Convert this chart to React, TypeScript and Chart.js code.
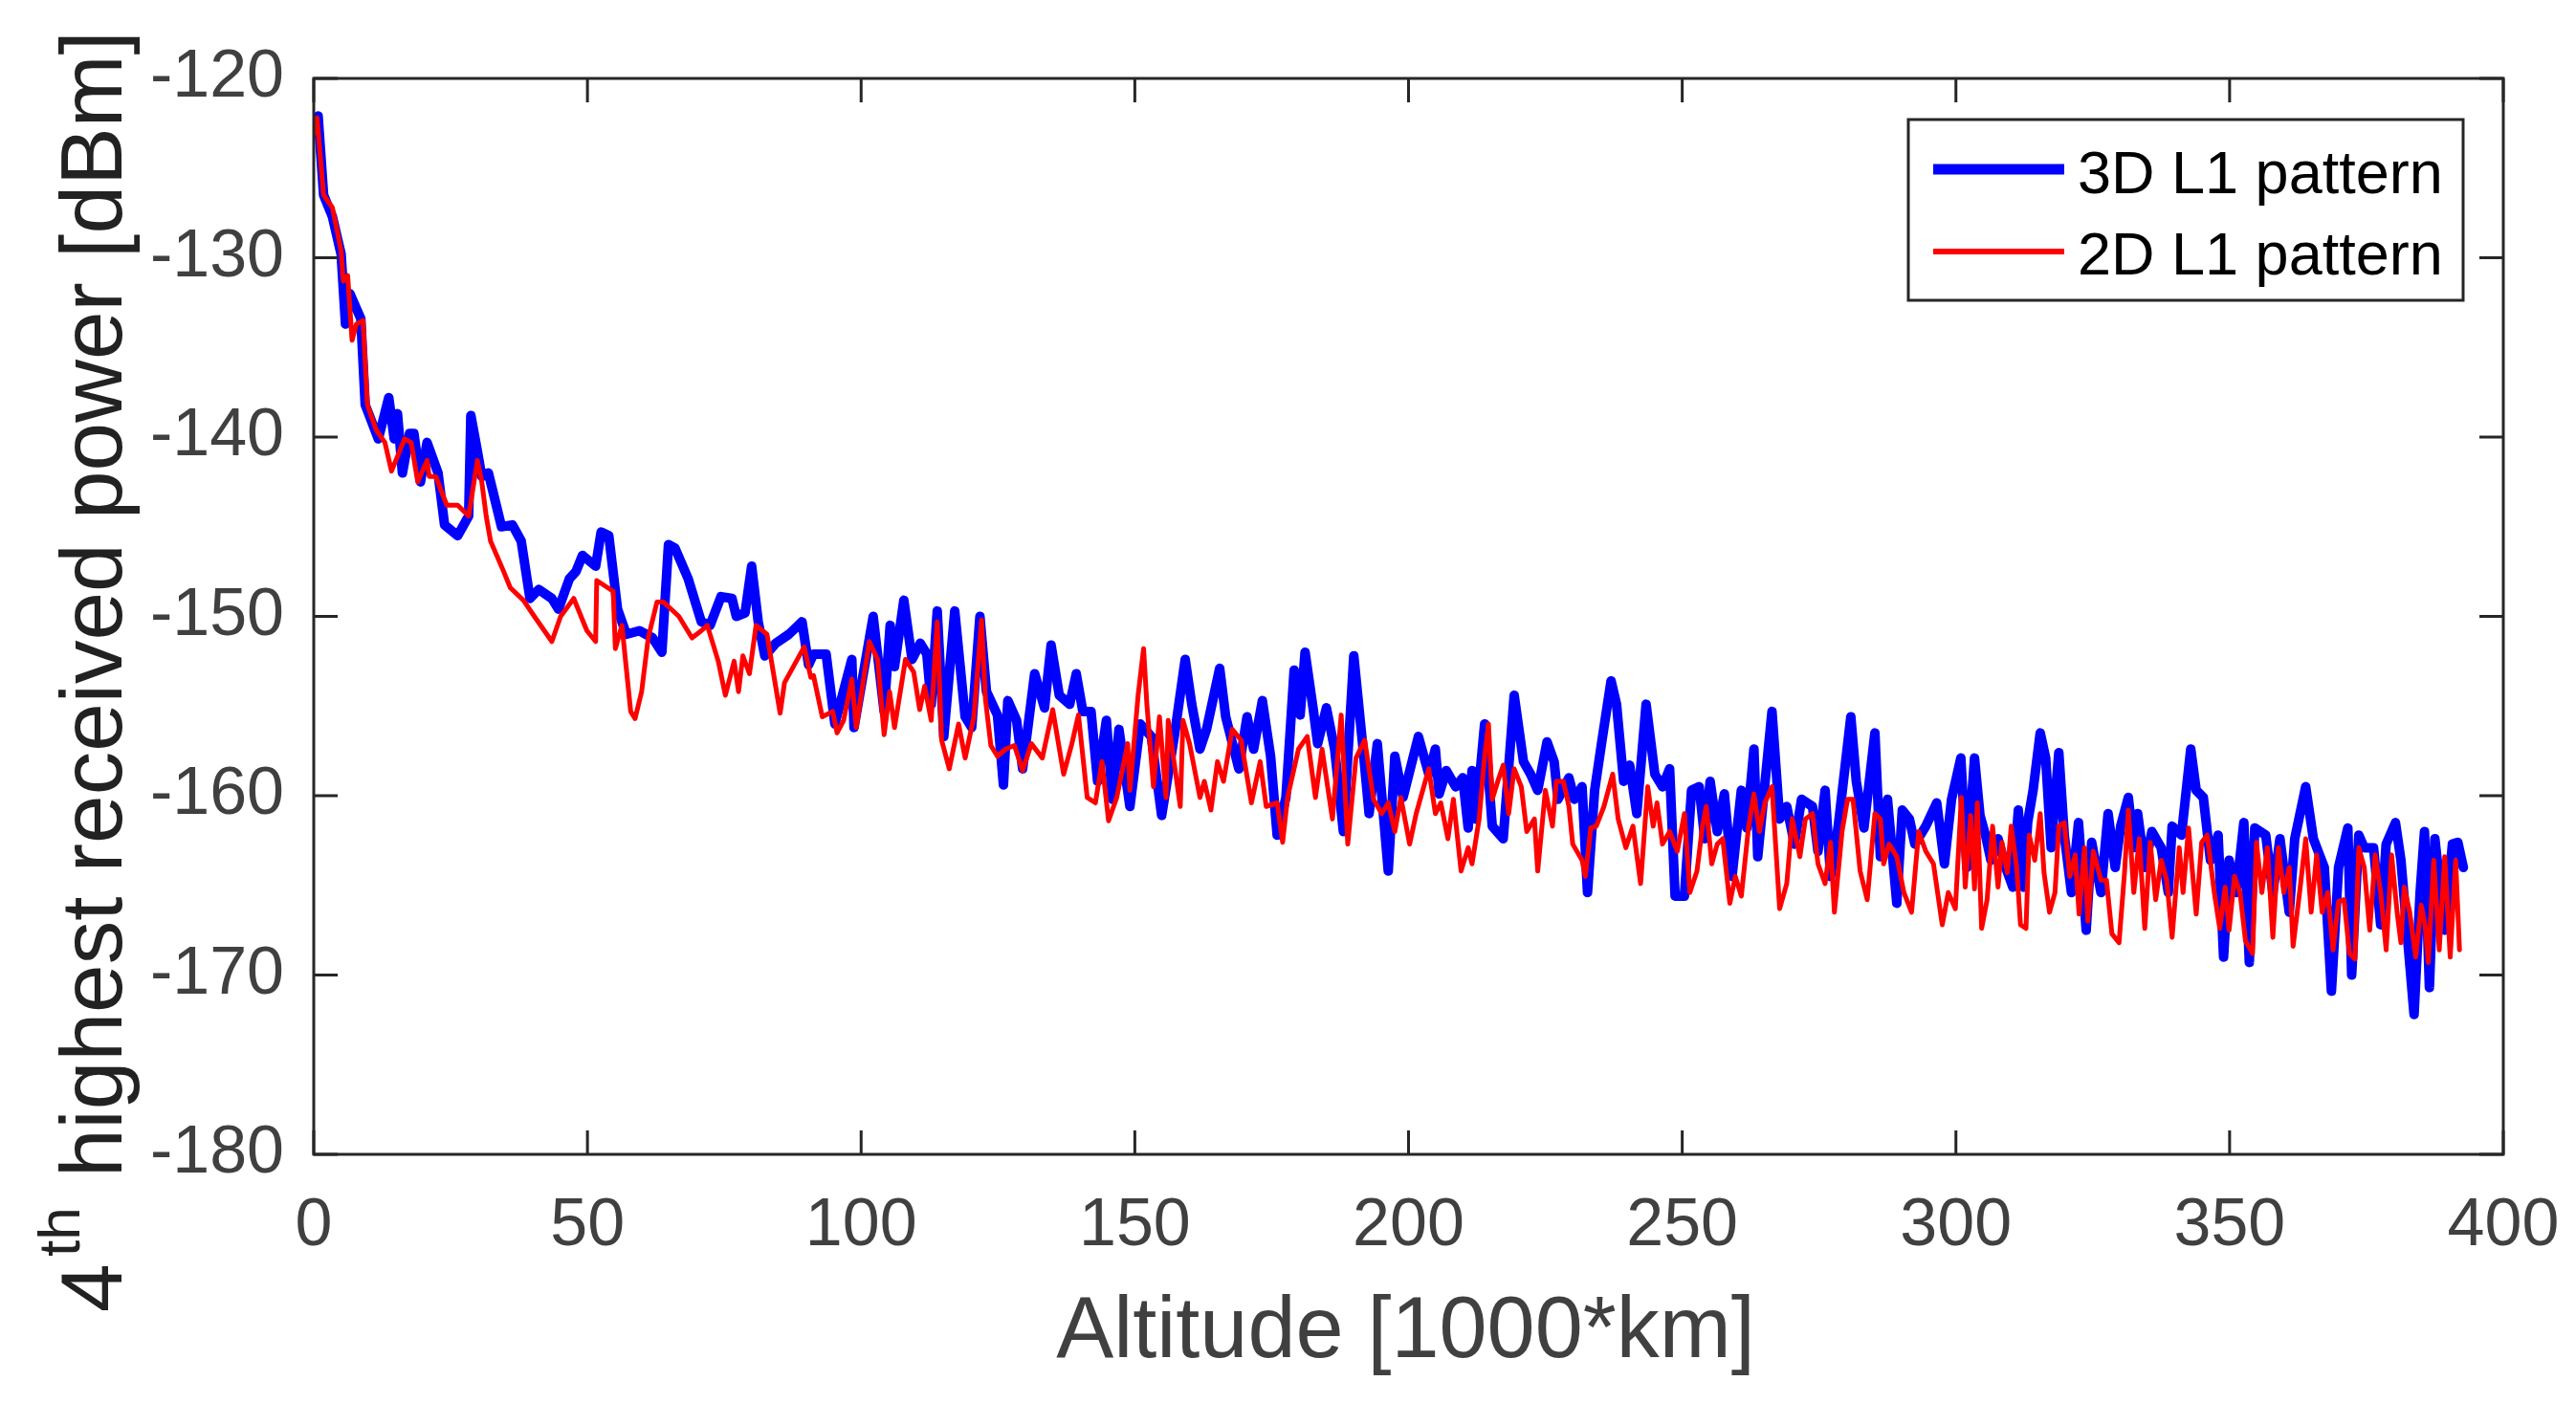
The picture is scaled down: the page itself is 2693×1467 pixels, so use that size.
import { useEffect, useRef } from "react"
import { Chart, registerables } from "chart.js"

Chart.register(...registerables)

// 3D L1 pattern (thick blue)
const altitude3D = [
  0, 0.8, 1.8, 3.4, 5.0, 5.8, 6.6, 8.6, 9.4, 11.8, 13.7, 14.7, 15.3, 16.2, 17.5, 18.3, 19.5, 20.7, 22.7, 23.9,
  26.3, 28.3, 28.7, 29.9, 30.7, 31.9, 34.3, 36.3, 37.9, 39.5, 41.1, 43.5, 44.7, 46.7, 47.9, 49.1, 51.5, 52.5, 53.9, 55.5,
  57.1, 59.5, 61.9, 63.6, 64.8, 66, 68.4, 70.8, 72.4, 74.4, 76.4, 77.2, 78.8, 80, 81.2, 82.4, 84.4, 86.8, 89.2, 90.4,
  91.3, 93.6, 95.2, 98.3, 98.7, 102.2, 104.2, 105.3, 106.1, 107.8, 109.3, 110.8, 112, 112.8, 113.9, 115.1, 117.1, 119, 120.2, 121.7,
  122.9, 124.9, 126, 126.8, 128.4, 129.5, 131.7, 133.5, 134.7, 136.2, 138.1, 139.3, 140.5, 142, 143.2, 144.8, 145.9, 147.1, 149.1, 151,
  153, 154.9, 157.3, 159.2, 160.4, 161.9, 163.1, 165.5, 166.6, 169, 170.5, 171.7, 173.3, 174.8, 176, 177.6, 179.1, 180.2, 181.1, 182.6,
  183.4, 185, 186.5, 188.1, 190, 191.6, 192.8, 194.3, 196.3, 197.5, 199, 201.8, 203.7,
  204.9, 205.6, 206.9, 208.6, 209.9, 210.9, 211.6, 212.3, 213.9, 215.3, 217.3, 219.3, 221, 222.3, 223.6, 225.3, 226.6, 227.3, 229.3, 230.3,
  231.7, 232.7, 234, 235.3, 237, 238, 239.3, 240.4, 241.7, 243.4, 245, 246.4, 247.7, 248.7, 250.4, 251.7, 253.1, 254.1, 255.1, 256.4,
  257.7, 259.1, 260.8, 261.8, 263.1, 263.8, 266.4, 267.8, 269.1, 270.5, 271.8, 273.8, 274.8, 276.1, 277.1, 278.5, 280.8, 281.8, 283.2, 285.2,
  286.2, 287.5, 289.2, 290.2, 291.5, 292.5, 294.5, 296.5, 297.9, 299.2, 300.9,
  302, 303.4, 304.4, 305.4, 306.4, 307.7, 309.1, 310.4, 311.4, 312.4, 313.1, 314.1, 315.4, 316.4, 317.4, 318.8, 319.8, 321.1, 322.4, 323.8,
  324.8, 326.5, 327.8, 329.1, 330.1, 331.5, 332.5, 333.2, 334.5, 335.8, 337.5, 338.8, 339.5, 341.2, 342.9, 343.9, 345.2, 346.5, 347.9, 348.9,
  349.9, 351.2, 352.6, 353.6, 354.6, 356.6, 357.9, 359.2, 360.9, 361.9, 363.9, 365.3, 367.3, 368.6, 369.9, 371.6, 372.3, 373.6, 374.6, 376.3,
  377.6, 378.6, 380.3, 381.3, 382.3, 383.7, 384.8, 385.6, 386.5, 387.5, 389.3, 390.7, 391.7, 392.7,
]
const power3D = [
  -122.9, -122.1, -126.5, -127.7, -129.8, -133.7, -132, -133.4, -138.2, -140.1, -137.8, -140.1, -138.7, -142, -139.8, -139.8, -142.5, -140.3, -142, -144.9,
  -145.5, -144.4, -138.8, -140.8, -142.2, -142, -145, -144.9, -145.8, -149, -148.5, -149, -149.6, -147.9, -147.5, -146.6, -147.2, -145.3, -145.5, -149.6,
  -151, -150.8, -151.2, -152, -146, -146.2, -147.9, -150.3, -150.5, -148.9, -149, -150, -149.8, -147.2, -150.3, -152.2, -151.5, -151, -150.3, -152.7,
  -152.1, -152.1, -156, -152.4, -156.2, -150, -155.3, -150.5, -152.8, -149.1, -152.4, -151.5, -152.1, -154.9, -149.7, -156.7, -149.7, -155.6, -156.2, -150,
  -154.2, -155.5, -159.4, -154.7, -155.8, -158.5, -153.2, -155.1, -151.6, -154.4, -154.9, -153.2, -155.3, -155.3, -159.2, -155.8, -160.2, -156.3, -160.6, -156,
  -156.7, -161.1, -156.5, -152.4, -154.9, -157.4, -156.3, -152.9, -155.6, -158.5, -155.6, -157.4, -154.7, -157.8, -162.2, -160.1, -153, -155.5, -152, -155.2,
  -157.1, -155.1, -157.4, -162, -152.2, -157.1, -161, -157.1, -164.2, -157.8, -160.1, -156.7, -158.8,
  -157.4, -159.9, -158.6, -159.5, -159, -161.8, -158.6, -161.3, -156, -161.7, -162.4, -154.4, -158.1, -158.8, -159.7, -157, -158.1, -160.2, -159, -160.2,
  -159.5, -165.4, -159.7, -157, -153.6, -154.9, -159.2, -158.3, -161, -154.9, -158.8, -159.5, -158.5, -165.6, -165.6, -159.7, -159.5, -162.4, -159.2, -162,
  -159.9, -164.5, -159.7, -161.8, -157.4, -163.4, -155.3, -161.3, -160.6, -162.7, -160.2, -160.6, -163.1, -159.7, -164.5, -161.7, -155.6, -159.2, -161.8, -156.5,
  -163.4, -160.2, -166, -160.8, -161.3, -162.7, -161.7, -160.4, -163.8, -160.2, -157.9,
  -164, -157.9, -161.1, -162.2, -163.6, -162.4, -164, -165.1, -160.8, -165.1, -161.5, -159.7, -156.5, -157.9, -162.9, -157.6, -162.2, -165.4, -161.5, -167.5,
  -162.6, -165.4, -161, -164, -161.7, -160.1, -162.9, -161, -164, -162, -162.9, -165.4, -161.7, -162.2, -157.4, -159.7, -160.1, -163.6, -162.2, -169,
  -163.6, -165.4, -161.5, -169.3, -161.8, -162.2, -165.4, -162.4, -166.5, -162.4, -159.5, -162.4, -164, -170.9, -164, -161.8, -170, -162.2, -162.9, -162.9,
  -167.2, -162.7, -161.5, -163.6, -167.2, -172.2, -165.4, -162, -170.7, -162.4, -167.5, -162.7, -162.6, -164,
]

// 2D L1 pattern (thin red)
const altitude2D = [
  0, 0.6, 1.8, 3.4, 5, 5.4, 6.2, 7, 7.8, 9, 9.8, 11.4, 13, 14.2, 16.6, 17.8, 19, 20.7, 21.1, 22.3,
  24.3, 26.3, 28.3, 29.9, 30.7, 31.5, 32.3, 34.7, 35.9, 38.3, 40.3, 43.5, 45.1, 47.5, 49.9, 51.5, 51.7, 54.7, 55.1, 56.3,
  57.9, 58.7, 59.9, 61.1, 62.7, 63.9, 66.7, 69.1, 70.8, 71.9, 73.9, 75.2, 76.8, 77.6, 78.4, 79.6, 80.8, 82.8, 85.2, 86,
  89.6, 90.8,
  91.3, 92.9, 94.8, 95.6, 96.8, 98.3, 99.1, 101.5, 103, 104.2, 105.2, 106.1, 108.1, 109.6, 110.7, 111.6, 112.8, 113.9, 114.7, 116.1,
  117.8, 119, 120.6, 122, 122.7, 123.7, 124.9, 126.4, 128, 129.5, 131.1, 133.1, 135, 137, 138.5, 139.7, 141.3, 142.8, 144, 145.2,
  146.7, 148.7, 149.1, 150.6, 151.6, 152.2, 153.4, 154.5, 155.7, 156.1, 158.3, 158.8, 160, 161.9, 162.7, 163.9, 165.1, 166.2, 167.8, 169.4,
  171.3, 172.9, 174, 176, 177, 177.9, 179.9, 181.5, 183, 184.2, 186.1, 187.7, 188.9, 190.4, 192, 193.6, 195.1, 196.3, 197.5, 198.6,
  200.2, 201.4, 203.7,
  204.9, 205.9, 207.2, 208.2, 209.6, 210.9, 211.6, 212.9, 213.9, 214.6, 215.3, 216.3, 217.3, 218.3, 219.3, 220.6, 221.6, 223, 223.6, 225,
  226.3, 227, 228.3, 229.3, 230, 231.7, 232.3, 233.3, 234.3, 235.7, 237.3, 238.3, 239.7, 241, 242.4, 243.7, 244.7, 245.4, 246.4, 247.7,
  249.1, 250.4, 251.4, 252.7, 253.7, 254.4, 255.4, 256.4, 257.4, 258.7, 259.7, 260.8, 262.1, 263.1, 264.1, 265.1, 266.4, 267.8, 269.1, 270.1,
  271.5, 272.5, 273.8, 274.8, 276.1, 277.1, 277.8, 279.2, 280.2, 281.2, 282.5, 283.8, 285.2, 286.2, 286.8, 287.8, 289.2, 290.5, 291.9, 293.2,
  294.5, 295.9, 297.5, 298.6, 299.9,
  301, 301.7, 302.7, 303.4, 303.9, 304.7, 305.7, 306.7, 307.7, 308.4, 309.4, 310.1, 311.1, 311.8, 312.8, 313.4, 314.4, 315.4, 316.1, 317.1,
  318.1, 318.8, 319.8, 320.8, 321.8, 322.5, 323.5, 324.1, 325.1, 326.5, 327.5, 328.5, 329.8, 330.8, 331.5, 332.5, 333.5, 334.5, 335.5, 336.5,
  337.5, 338.5, 339.5, 340.8, 341.5, 342.5, 343.9, 344.9, 345.9, 347.2, 348.2, 349.2, 349.9, 350.9, 351.9, 352.9, 354.2, 354.9, 355.9, 356.9,
  357.9, 358.9, 359.9, 360.9, 361.6, 362.9, 363.9, 364.9, 365.9, 366.9, 367.9, 368.9, 369.9, 370.9, 371.9, 372.9, 373.6, 374.6, 375.6, 376.6,
  377.6, 378.6, 379.6, 380.6, 381.3, 381.9, 382.9, 384, 385, 385.7, 386.3, 387.3, 388.3, 389.3, 390.3, 391.3, 392,
]
const power2D = [
  -123.1, -122.2, -126.5, -127.2, -129.6, -131.3, -131, -134.6, -133.7, -133.5, -138.2, -139.6, -140.3, -141.9, -140.1, -140.3, -142.5, -141.3, -142.2, -142.2,
  -143.8, -143.8, -144.4, -141.3, -142.5, -144.4, -145.8, -147.5, -148.4, -149.1, -150, -151.4, -150, -149, -150.8, -151.4, -148, -148.6, -151.8, -150.5,
  -155.3, -155.7, -154.2, -151.2, -149.2, -149.2, -150, -151.2, -150.8, -150.5, -152.5, -154.4, -152.5, -154.2, -152.2, -153.2, -150.5, -151, -155.4, -153.7,
  -151.7, -153.4,
  -153.3, -155.6, -155.3, -156.5, -155.8, -153.5, -156.2, -151.4, -152.4, -156.6, -154.2, -156.2, -152.4, -153.1, -155.2, -153.9, -155.8, -150.3, -156.9, -158.5,
  -156, -157.9, -155.6, -150.2, -154.6, -157.2, -157.8, -157.4, -157.2, -158.6, -157.1, -157.9, -155.2, -158.8, -157.1, -155.5, -160.1, -160.4, -158.1, -161.4,
  -160.1, -157.1, -159.7, -154.4, -151.8, -154.9, -159.5, -155.6, -160.1, -155.8, -160.6, -155.8, -157.1, -160.1, -159.2, -160.8, -158.1, -159.2, -156.3, -156.9,
  -160.4, -158.1, -160.6, -160.4, -162.6, -160.1, -157.4, -156.7, -160.1, -157.4, -161.3, -155.5, -162.7, -157.9, -156.9, -160.2, -161, -160.4, -162, -160.1,
  -162.7, -161, -158.5,
  -161, -160.4, -162.4, -160.2, -164.2, -162.9, -163.8, -161.3, -157.8, -156, -160.2, -159.2, -158.3, -161, -158.5, -159.5, -162, -161.3, -164.2, -159.7,
  -161.7, -159.2, -159.2, -160.6, -162.7, -163.6, -164.5, -161.8, -161.7, -160.6, -158.8, -161.3, -162.9, -161.7, -164.9, -159.5, -161.7, -160.4, -162.7, -162,
  -163.1, -161, -165.4, -164.2, -161.7, -160.6, -163.8, -162.7, -162.4, -166, -164.5, -165.6, -161.8, -159.9, -162, -160.4, -159.5, -166.3, -164.9, -161.3,
  -163.4, -161.3, -161, -163.8, -164.9, -162.6, -166.5, -162, -160.2, -160.2, -164.2, -165.8, -161, -161.3, -163.8, -162.7, -163.4, -165.4, -166.5, -162,
  -163.1, -163.8, -167.2, -165.4, -166.3,
  -160.1, -165.1, -161.1, -165.2, -160.4, -167.4, -165.8, -161.7, -165.1, -162.6, -164.3, -161.7, -164, -167.2, -167.4, -162.2, -163.6, -161, -164.3, -166.5,
  -165.4, -161.7, -161.5, -164.5, -163.3, -166.6, -162.9, -167, -163.1, -164.7, -164.7, -167.7, -168.2, -164.3, -160.8, -165.4, -162.4, -167.4, -162.6, -165.8,
  -163.6, -164.7, -167.9, -162.9, -165.4, -161.8, -166.6, -162.6, -162.2, -165.4, -167.4, -165.1, -167.5, -164.5, -165.4, -168.1, -168.8, -162.6, -165.4, -162.9,
  -167.9, -162.9, -165.4, -164, -168.4, -165.1, -162.4, -166.5, -163.3, -166.5, -165.4, -168.6, -165.9, -165.8, -168.8, -169.1, -162.9, -164, -167.5, -163.3,
  -165.4, -168.6, -163.3, -166.5, -168.2, -165.1, -166.5, -169, -166.1, -167.2, -169.3, -163.6, -168.6, -163.4, -169, -163.6, -168.6,
]

const FONT = "'Liberation Sans', Arial, Helvetica, sans-serif"
const AXIS_COLOR = "#262626"

const matlabFrame = {
  id: "matlabFrame",
  afterDatasetsDraw(chart: Chart) {
    const { ctx, chartArea: a, scales } = chart
    const tick = 25
    ctx.save()
    ctx.strokeStyle = AXIS_COLOR
    ctx.lineWidth = 3
    ctx.lineCap = "butt"

    // inward tick marks on all four sides
    ctx.beginPath()
    scales.x.ticks.forEach((t) => {
      const px = scales.x.getPixelForValue(t.value)
      ctx.moveTo(px, a.bottom)
      ctx.lineTo(px, a.bottom - tick)
      ctx.moveTo(px, a.top)
      ctx.lineTo(px, a.top + tick)
    })
    scales.y.ticks.forEach((t) => {
      const py = scales.y.getPixelForValue(t.value)
      ctx.moveTo(a.left, py)
      ctx.lineTo(a.left + tick, py)
      ctx.moveTo(a.right, py)
      ctx.lineTo(a.right - tick, py)
    })
    ctx.stroke()
    ctx.strokeRect(a.left, a.top, a.right - a.left, a.bottom - a.top)

    // legend box
    const lx = 1995
    const ly = 125
    ctx.fillStyle = "#ffffff"
    ctx.fillRect(lx, ly, 580, 189)
    ctx.strokeRect(lx, ly, 580, 189)
    const rows = [
      { ds: chart.data.datasets[0], y: 177, base: 202 },
      { ds: chart.data.datasets[1], y: 263, base: 287 },
    ]
    ctx.font = `63px ${FONT}`
    ctx.textAlign = "left"
    ctx.textBaseline = "alphabetic"
    rows.forEach((r) => {
      ctx.strokeStyle = r.ds.borderColor as string
      ctx.lineWidth = (r.ds.borderWidth as number) + 1
      ctx.beginPath()
      ctx.moveTo(2021, r.y)
      ctx.lineTo(2158, r.y)
      ctx.stroke()
      ctx.fillStyle = "#000000"
      ctx.fillText(r.ds.label as string, 2172, r.base)
    })

    // x axis title
    ctx.fillStyle = "#404040"
    ctx.font = `90px ${FONT}`
    ctx.textAlign = "center"
    ctx.fillText("Altitude [1000*km]", (a.left + a.right) / 2 - 3, 1419)

    // y axis title with superscript
    ctx.save()
    ctx.translate(127, 1370)
    ctx.rotate(-Math.PI / 2)
    ctx.fillStyle = "#222222"
    ctx.textAlign = "left"
    ctx.font = `91px ${FONT}`
    ctx.fillText("4", -2, 0)
    ctx.font = `62px ${FONT}`
    ctx.fillText("th", 56, -44)
    ctx.font = `91px ${FONT}`
    ctx.fillText("highest received power [dBm]", 139, 0)
    ctx.restore()

    ctx.restore()
  },
}

export default function App() {
  const chartRef = useRef<HTMLCanvasElement>(null)
  const chartInstance = useRef<Chart | null>(null)

  useEffect(() => {
    if (!chartRef.current) return
    if (chartInstance.current) {
      chartInstance.current.destroy()
    }

    const toPoints = (xs: number[], ys: number[]) => xs.map((x, i) => ({ x, y: ys[i] }))

    chartInstance.current = new Chart(chartRef.current, {
      type: "line",
      data: {
        datasets: [
          {
            label: "3D L1 pattern",
            data: toPoints(altitude3D, power3D),
            borderColor: "#0000ff",
            borderWidth: 10,
            pointRadius: 0,
            tension: 0,
            borderJoinStyle: "round",
            borderCapStyle: "round",
            order: 2,
          },
          {
            label: "2D L1 pattern",
            data: toPoints(altitude2D, power2D),
            borderColor: "#ff0000",
            borderWidth: 5,
            pointRadius: 0,
            tension: 0,
            borderJoinStyle: "round",
            borderCapStyle: "round",
            order: 1,
          },
        ],
      },
      options: {
        animation: false,
        responsive: true,
        maintainAspectRatio: false,
        devicePixelRatio: 1,
        layout: { padding: { left: 0, right: 76, top: 82, bottom: 0 } },
        plugins: {
          legend: { display: false },
          tooltip: { enabled: false },
        },
        scales: {
          x: {
            type: "linear",
            min: 0,
            max: 400,
            ticks: {
              stepSize: 50,
              color: "#404040",
              font: { family: FONT, size: 70 },
              padding: 34,
              maxRotation: 0,
            },
            grid: { display: false, drawTicks: false },
            border: { display: false },
            afterFit: (scale) => {
              scale.height = 260
              scale.paddingLeft = 0
              scale.paddingRight = 0
            },
          },
          y: {
            min: -180,
            max: -120,
            ticks: {
              stepSize: 10,
              color: "#404040",
              font: { family: FONT, size: 70 },
              padding: 31,
            },
            grid: { display: false, drawTicks: false },
            border: { display: false },
            afterFit: (scale) => {
              scale.width = 328
              scale.paddingTop = 0
              scale.paddingBottom = 0
            },
          },
        },
      },
      plugins: [matlabFrame],
    })

    return () => {
      if (chartInstance.current) {
        chartInstance.current.destroy()
        chartInstance.current = null
      }
    }
  }, [])

  return (
    <div style={{ position: "fixed", left: 0, top: 0, width: 2693, height: 1467, background: "#ffffff" }}>
      <canvas ref={chartRef} />
    </div>
  )
}
